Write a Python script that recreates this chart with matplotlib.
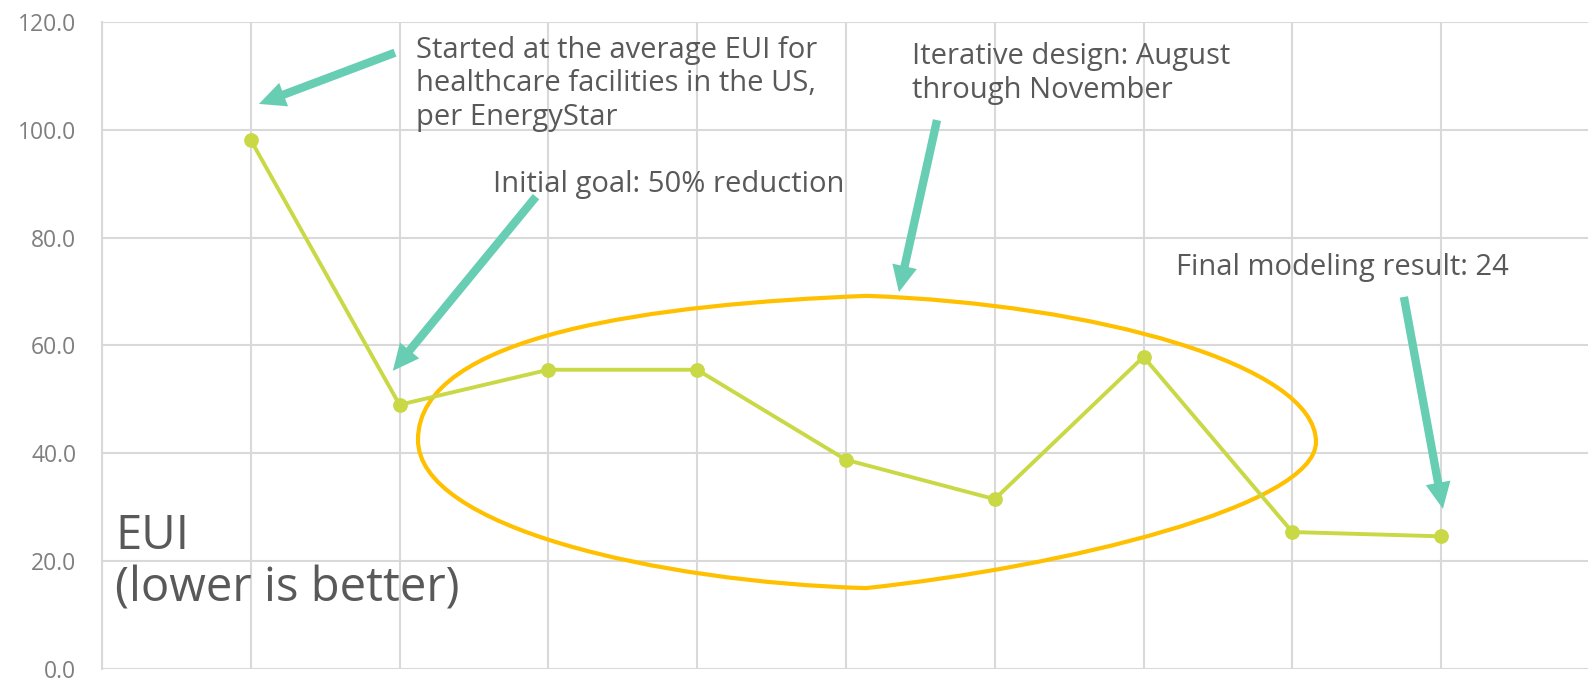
import numpy as np
import matplotlib.pyplot as plt
from matplotlib.path import Path
from matplotlib.patches import PathPatch

plt.rcParams["font.family"] = ["Open Sans", "DejaVu Sans"]

# data
steps = [1, 2, 3, 4, 5, 6, 7, 8, 9]
eui = [98.1, 49.0, 55.5, 55.5, 38.8, 31.5, 57.9, 25.4, 24.6]
yticks = [0, 20, 40, 60, 80, 100, 120]

# annotation texts and anchors (data coords)
notes = [
    ("Started at the average EUI for\nhealthcare facilities in the US,\nper EnergyStar", 2.110, 117.4),
    ("Initial goal: 50% reduction", 2.628, 88.5),
    ("Iterative design: August\nthrough November", 5.444, 116.2),
    ("Final modeling result: 24", 7.218, 73.1),
]
# arrows: (tail, tip)
arrows = [
    ((1.969, 114.3), (1.055, 104.8)),
    ((2.917, 87.6), (1.955, 55.3)),
    ((5.612, 101.8), (5.356, 69.9)),
    ((8.750, 69.0), (9.012, 29.7)),
]
# freeform "ellipse" around the iterative phase
loop_pts = [
    (5.141, 69.2),
    (3.737, 67.7), (2.124, 62.2), (2.124, 42.5),
    (2.124, 26.3), (3.737, 16.1), (5.134, 15.0),
    (6.458, 18.9), (8.159, 30.2), (8.159, 42.1),
    (8.159, 56.4), (6.667, 67.7), (5.141, 69.2),
]

line_c = "#C9D845"
grid_c = "#D9D9D9"
text_c = "#595959"
arrow_c = "#67CDB3"
loop_c = "#FFC000"

fig = plt.figure(figsize=(15.88, 6.8), dpi=100)
ax = fig.add_axes([0.0642, 0.0162, 0.937, 0.9515])
ax.set_xlim(0, 10)
ax.set_ylim(0, 120)

ax.set_xticks(range(0, 11))
ax.set_yticks(yticks)
ax.set_yticklabels([f"{v:.1f}" for v in yticks], color="#7F7F7F", fontsize=16.5)
ax.tick_params(axis="x", length=0, labelbottom=False)
ax.tick_params(axis="y", length=0, pad=18.5)
ax.grid(True, color=grid_c, linewidth=1.5)
for s in ["top", "right", "bottom"]:
    ax.spines[s].set_visible(False)
ax.spines["left"].set_color(grid_c)
ax.spines["left"].set_linewidth(1.5)

ax.plot(steps, eui, "-o", color=line_c, linewidth=2.8, markersize=9.6, zorder=4, clip_on=False)

codes = [Path.MOVETO] + [Path.CURVE4] * 12
loop = PathPatch(Path(loop_pts, codes), facecolor="none", edgecolor=loop_c, linewidth=3, zorder=3)
ax.add_patch(loop)

for (tail, tip) in arrows:
    ax.annotate("", xy=tip, xytext=tail,
                arrowprops=dict(facecolor=arrow_c, edgecolor="none", width=6, headwidth=18, headlength=19, shrink=0),
                zorder=5)

for txt, x, y in notes:
    va = "baseline" if "\n" not in txt else "top"
    ax.text(x, y, txt, fontsize=21, color=text_c, va=va, ha="left", linespacing=1.2, zorder=6)

ax.text(0.087, 29.1, "EUI\n(lower is better)", fontsize=34, color=text_c, va="top", ha="left",
        linespacing=1.15, zorder=6)

fig.savefig("out.png", dpi=100)
